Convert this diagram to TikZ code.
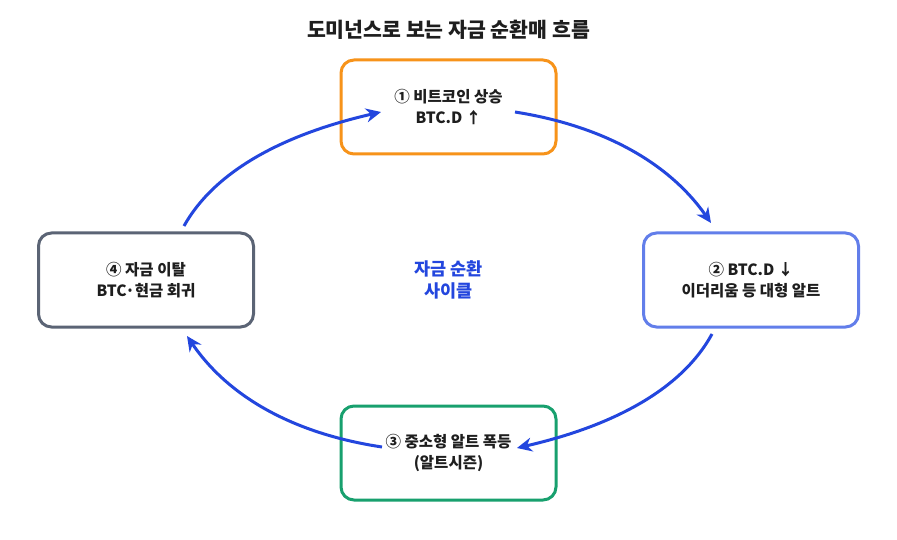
\documentclass[tikz,border=0pt]{standalone}
\usepackage{fontspec}
\setmainfont{Noto Sans CJK KR}
\usetikzlibrary{calc,arrows.meta}
\definecolor{cOrange}{HTML}{F7931A}
\definecolor{cBlue}{HTML}{627EEA}
\definecolor{cGreen}{HTML}{18A06E}
\definecolor{cGray}{HTML}{5B6475}
\definecolor{cArrow}{HTML}{2346DE}
\definecolor{cText}{HTML}{1E1E1E}
\tikzset{
  stagebox/.style={draw=#1, line width=3pt, rounded corners=13pt, minimum width=215pt, minimum height=94pt, fill=white, align=center, font=\fontsize{15.5}{21}\selectfont\bfseries, text=cText, inner sep=0pt},
  flow/.style={draw=cArrow, line width=3pt, -{Stealth[length=15pt,width=14pt]}},
}
\newcommand{\qcurve}[3]{\draw[flow] (#1) .. controls ($(#1)!2/3!(#2)$) and ($(#3)!2/3!(#2)$) .. (#3);}
\begin{document}
\begin{tikzpicture}[x=1pt,y=-1pt]
\useasboundingbox (0,0) rectangle (897,540);
\fill[white] (0,0) rectangle (897,540);
\node[font=\fontsize{20.5}{24}\selectfont\bfseries, text=cText] (title) at (448.5,30) {도미넌스로 보는 자금 순환매 흐름};
\node[stagebox=cOrange] (s1) at (448.5,107) {① 비트코인 상승\\BTC.D ↑};
\node[stagebox=cBlue] (s2) at (751,280) {② BTC.D ↓\\이더리움 등 대형 알트};
\node[stagebox=cGreen] (s3) at (448.5,453) {③ 중소형 알트 폭등\\(알트시즌)};
\node[stagebox=cGray] (s4) at (146,280) {④ 자금 이탈\\BTC·현금 회귀};
\node[font=\fontsize{17.5}{22}\selectfont\bfseries, text=cArrow, align=center] (mid) at (448.5,280) {자금 순환\\사이클};
\coordinate (a1s) at (184,226); \coordinate (a1c) at (228,147); \coordinate (a1e) at (381,112);
\coordinate (a2s) at (515,112); \coordinate (a2c) at (648,133); \coordinate (a2e) at (711,223);
\coordinate (a3s) at (712,334); \coordinate (a3c) at (669,413); \coordinate (a3e) at (517,448);
\coordinate (a4s) at (382,447); \coordinate (a4c) at (249,427); \coordinate (a4e) at (187,336);
\qcurve{a1s}{a1c}{a1e}
\qcurve{a2s}{a2c}{a2e}
\qcurve{a3s}{a3c}{a3e}
\qcurve{a4s}{a4c}{a4e}
\end{tikzpicture}
\end{document}
